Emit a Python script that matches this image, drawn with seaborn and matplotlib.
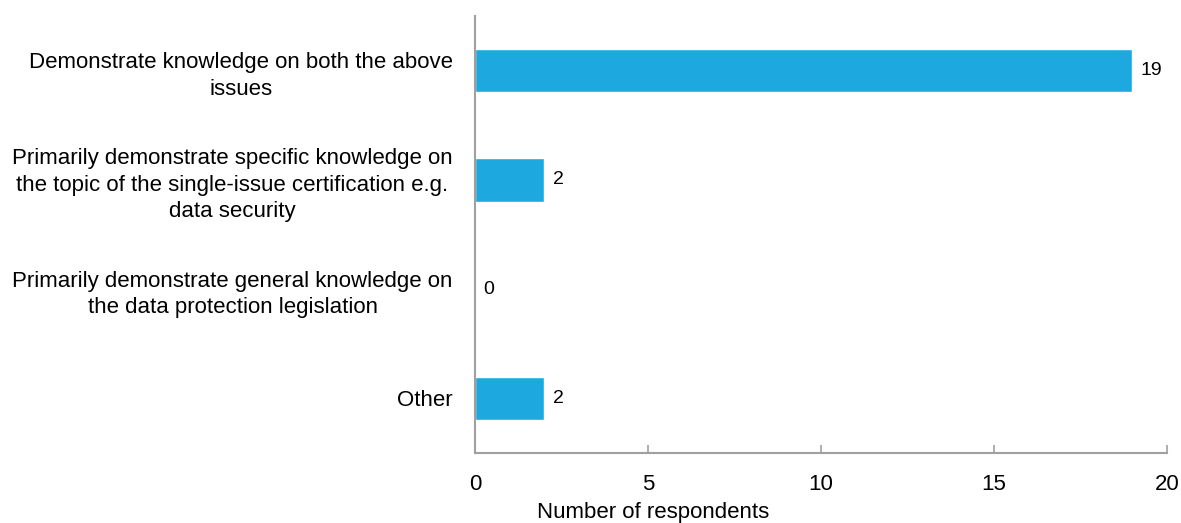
import pandas as pd
import matplotlib
matplotlib.use("Agg")
import matplotlib.pyplot as plt
import seaborn as sns

# data
categories = [
    "Demonstrate knowledge on both the above\nissues",
    "Primarily demonstrate specific knowledge on\nthe topic of the single-issue certification e.g.\ndata security",
    "Primarily demonstrate general knowledge on\nthe data protection legislation",
    "Other",
]
respondents = [19, 2, 0, 2]
x_ticks = [0, 5, 10, 15, 20]

df = pd.DataFrame({"Categoria": categories, "Respondentes": respondents})

sns.set_theme(style="white")
plt.rcParams["font.family"] = ["Liberation Sans", "DejaVu Sans"]
plt.rcParams["text.color"] = "black"
plt.rcParams["xtick.labelcolor"] = "black"
plt.rcParams["ytick.labelcolor"] = "black"
plt.rcParams["axes.labelcolor"] = "black"

fig = plt.figure(figsize=(11.81, 5.23), dpi=100)
ax = fig.add_axes([475 / 1181, 1 - 453 / 523, 692 / 1181, 437 / 523])

sns.barplot(data=df, x="Respondentes", y="Categoria", orient="h",
            color="#1DA9E0", saturation=1, width=0.4, ax=ax)

for c in ax.containers:
    ax.bar_label(c, labels=[str(v) for v in respondents], padding=6,
                 fontsize=14, color="black")

ax.set_xlim(0, 20)
ax.set_xticks(x_ticks)
ax.set_ylabel("")
ax.set_xlabel("Number of respondents", fontsize=16)
ax.xaxis.set_label_coords(0.257, -0.112)

for side in ["top", "right"]:
    ax.spines[side].set_visible(False)
for side in ["left", "bottom"]:
    ax.spines[side].set_color("#A0A0A0")
    ax.spines[side].set_linewidth(1.5)

ax.tick_params(axis="x", direction="in", length=6, width=1.2, color="#A0A0A0",
               pad=15, labelsize=16, bottom=True)
ax.tick_params(axis="y", length=0, pad=16, labelsize=16)
for lbl in ax.get_yticklabels():
    lbl.set_multialignment("center")
    lbl.set_linespacing(1.35)

plt.savefig("out.png", dpi=100)
plt.close()
